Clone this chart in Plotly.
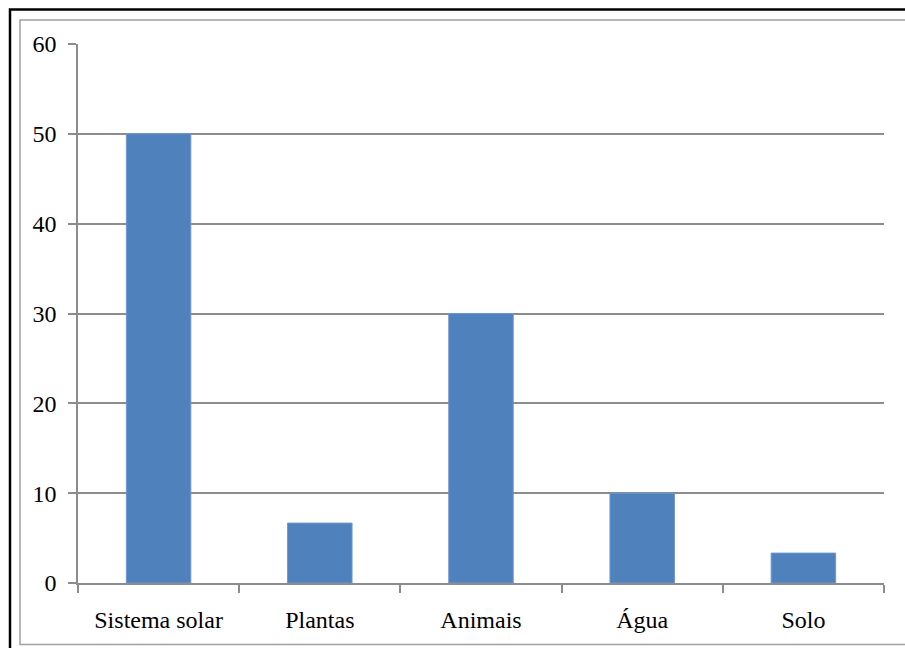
import plotly.graph_objects as go

# Data
categories = ["Sistema solar", "Plantas", "Animais", "Água", "Solo"]
values = [50, 6.67, 30, 10, 3.33]
y_ticks = [0, 10, 20, 30, 40, 50, 60]

W, H = 905, 648
L, R, T, B = 78, 884, 44, 583  # plot area in pixels


def px_x(x):
    return (x - L) / (R - L)


def px_y(y):
    return (B - y) / (B - T)


fig = go.Figure(
    go.Bar(
        x=categories,
        y=values,
        marker=dict(color="#4F81BD", line=dict(color="#6E98CB", width=1)),
    )
)

grid = "#8C8C8C"
font = dict(family="Liberation Serif, Times New Roman, serif", size=24, color="#000000")

fig.update_layout(
    width=W,
    height=H,
    margin=dict(l=L, r=W - R, t=T, b=H - B, pad=0),
    paper_bgcolor="white",
    plot_bgcolor="white",
    bargap=0.6,
    showlegend=False,
    font=font,
    xaxis=dict(
        type="category",
        showgrid=False,
        showline=True,
        linecolor=grid,
        linewidth=1.5,
        ticks="outside",
        tickson="boundaries",
        ticklen=8,
        tickwidth=1.5,
        tickcolor=grid,
        ticklabelstandoff=14,
        tickfont=font,
    ),
    yaxis=dict(
        range=[0, 60],
        tickvals=y_ticks,
        showgrid=True,
        gridcolor=grid,
        gridwidth=1.5,
        zeroline=False,
        showline=True,
        linecolor=grid,
        linewidth=1.5,
        ticks="outside",
        ticklen=8,
        tickwidth=1.5,
        tickcolor=grid,
        ticklabelstandoff=7,
        tickfont=font,
    ),
    shapes=[
        # outer black frame
        dict(type="rect", xref="paper", yref="paper",
             x0=px_x(10), y0=px_y(660), x1=px_x(915), y1=px_y(9.5),
             line=dict(color="#000000", width=2.5), layer="above"),
        # inner gray chart-area border
        dict(type="rect", xref="paper", yref="paper",
             x0=px_x(20), y0=px_y(644.5), x1=px_x(915), y1=px_y(20),
             line=dict(color="#A0A0A0", width=1.5), layer="above"),
    ],
)

fig.write_html("out.html")
